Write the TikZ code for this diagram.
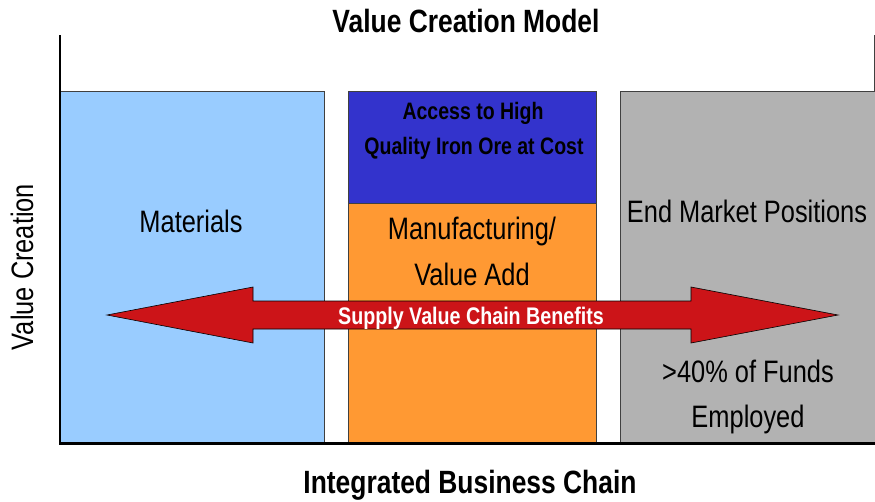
\documentclass[tikz,border=0pt]{standalone}
\usepackage{fontspec}
\setmainfont{Liberation Sans}
\newfontfamily\narrowfont[FakeStretch=0.82]{Liberation Sans}
\begin{document}
\begin{tikzpicture}[x=1pt,y=-1pt,
  box/.style={draw=boxedge,line width=1pt},
  lbl/.style={font=\narrowfont\fontsize{31}{31}\selectfont,anchor=base,inner sep=0pt},
  blbl/.style={font=\narrowfont\bfseries\fontsize{32.2}{32.2}\selectfont,anchor=base,inner sep=0pt},
  slbl/.style={font=\narrowfont\bfseries\fontsize{23.8}{23.8}\selectfont,anchor=base,inner sep=0pt},
  axis/.style={line width=2.2pt,black},
]
\definecolor{boxedge}{RGB}{64,64,64}
\definecolor{matblue}{RGB}{153,204,255}
\definecolor{oreblue}{RGB}{51,51,204}
\definecolor{mfgorange}{RGB}{255,153,51}
\definecolor{mktgray}{RGB}{178,178,178}
\definecolor{arrowred}{RGB}{204,20,24}
\useasboundingbox (0,0) rectangle (875,501);

% columns of the chain
\fill[matblue] (60,91) rectangle (324,443);
\draw[box] (324,443) -- (324,91) -- (60,91);
\fill[oreblue] (348,91) rectangle (596,203);
\fill[mfgorange] (348,203) rectangle (596,443);
\draw[box] (348,443) -- (348,91) -- (596,91) -- (596,443);
\draw[box] (348,203) -- (596,203);
\fill[mktgray] (620,91) rectangle (876,443);
\draw[box] (620,443) -- (620,91) -- (876,91);
\draw[boxedge,line width=1pt] (874,35) -- (874,91);

% axes
\draw[axis] (60,35) -- (60,443.5) -- (876,443.5);

% column texts
\node[lbl] (mat) at (191,232) {Materials};
\node[slbl] (ore1) at (473,119) {Access to High};
\node[slbl] (ore2) at (474,154) {Quality Iron Ore at Cost};
\node[lbl] (mfg1) at (472,239) {Manufacturing/};
\node[lbl] (mfg2) at (472,285) {Value Add};
\node[lbl] (mkt) at (747,222) {End Market Positions};
\node[lbl] (fund1) at (748,382) {>40\% of Funds};
\node[lbl] (fund2) at (748,427) {Employed};

% double-headed benefit arrow
\draw[fill=arrowred,draw=black,line width=0.6pt]
  (107,315) -- (253,287) -- (253,301) -- (691,301) -- (691,287) -- (838,315)
  -- (691,343) -- (691,329) -- (253,329) -- (253,343) -- cycle;
\node[slbl,text=white,font=\narrowfont\bfseries\fontsize{24}{24}\selectfont] (benefit) at (471,324) {Supply Value Chain Benefits};

% titles
\node[blbl] (title) at (466,32) {Value Creation Model};
\node[blbl] (xlab) at (470,493) {Integrated Business Chain};
\node[lbl,rotate=90] (ylab) at (33,267) {Value Creation};
\end{tikzpicture}
\end{document}
